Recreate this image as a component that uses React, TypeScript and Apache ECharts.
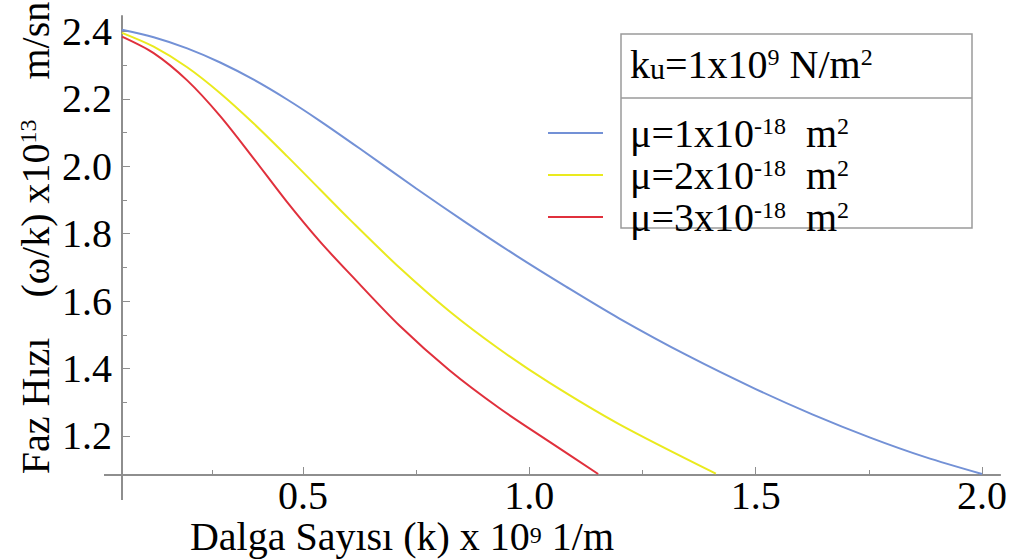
import React, { useEffect, useRef } from "react";
import * as echarts from "echarts";

const FONT = "Liberation Serif";

const blueX = [0.1, 0.17, 0.244, 0.317, 0.391, 0.464, 0.537, 0.626, 0.75, 0.86, 0.971, 1.081, 1.198, 1.35, 1.5, 1.625, 1.753, 1.875, 2.0];
const blueY = [2.405, 2.383, 2.35, 2.308, 2.257, 2.199, 2.135, 2.052, 1.934, 1.833, 1.735, 1.643, 1.549, 1.438, 1.339, 1.264, 1.195, 1.137, 1.087];

const yellowX = [0.1, 0.17, 0.244, 0.317, 0.391, 0.464, 0.537, 0.604, 0.714, 0.824, 0.934, 1.044, 1.198, 1.412];
const yellowY = [2.396, 2.355, 2.294, 2.217, 2.127, 2.031, 1.932, 1.841, 1.698, 1.569, 1.457, 1.358, 1.235, 1.088];

const redX = [0.1, 0.17, 0.244, 0.317, 0.391, 0.464, 0.537, 0.604, 0.714, 0.824, 0.934, 1.044, 1.152];
const redY = [2.385, 2.336, 2.255, 2.149, 2.023, 1.895, 1.777, 1.68, 1.526, 1.394, 1.282, 1.183, 1.087];

const seriesNames = ["μ=1x10⁻¹⁸  m²", "μ=2x10⁻¹⁸  m²", "μ=3x10⁻¹⁸  m²"];
const seriesCoef = ["1", "2", "3"];
const seriesColors = ["#7391d6", "#eaea1e", "#e0303c"];

const xLabelValues = [0.5, 1.0, 1.5, 2.0];
const xMinorTicks = [0.3, 0.75, 1.25, 1.75];
const yLabelValues = [1.2, 1.4, 1.6, 1.8, 2.0, 2.2, 2.4];
const yMinorTicks = [1.3, 1.5, 1.7, 1.9, 2.1, 2.3];

const zip = (xs: number[], ys: number[]) => xs.map((x, i) => [x, ys[i]]);

export default function App() {
  const ref = useRef<HTMLDivElement>(null);
  useEffect(() => {
    if (!ref.current) return;
    const chart = echarts.init(ref.current, null, { renderer: "svg" });
    const axisGray = "#8e8e8e";
    const rich = {
      b: { fontFamily: FONT, fontSize: 40, lineHeight: 38, color: "#000" },
      bn: { fontFamily: FONT, fontSize: 40, lineHeight: 26, color: "#000" },
      bp: { fontFamily: FONT, fontSize: 40, lineHeight: 38, color: "#000", padding: [0, 0, 0, 22] },
      sup: { fontFamily: FONT, fontSize: 24, lineHeight: 18, verticalAlign: "top", color: "#000" },
      supn: { fontFamily: FONT, fontSize: 24, lineHeight: 6, verticalAlign: "top", color: "#000" },
      sub: { fontFamily: FONT, fontSize: 30, lineHeight: 28, verticalAlign: "bottom", color: "#000" },
    };
    const xBase = { type: "value", min: 0.1, max: 2.04, splitLine: { show: false } };
    const yBase = { type: "value", min: 1.084, max: 2.446, splitLine: { show: false } };
    const option: any = {
      animation: false,
      backgroundColor: "#fff",
      textStyle: { fontFamily: FONT },
      grid: { left: 122, right: 7, top: 16, bottom: 85, containLabel: false },
      xAxis: [
        {
          ...xBase,
          axisLine: { show: true, lineStyle: { color: axisGray, width: 2 } },
          axisTick: { show: true, inside: true, length: 8, lineStyle: { color: axisGray, width: 1 }, customValues: xLabelValues },
          axisLabel: {
            show: true,
            margin: 5,
            customValues: xLabelValues,
            formatter: (v: number) => v.toFixed(1),
            fontFamily: FONT,
            fontSize: 40,
            lineHeight: 30,
            color: "#000",
          },
        },
        {
          ...xBase,
          position: "bottom",
          axisLine: { show: false },
          axisTick: { show: true, inside: true, length: 5, lineStyle: { color: axisGray, width: 1 }, customValues: xMinorTicks },
          axisLabel: { show: false },
        },
      ],
      yAxis: [
        {
          ...yBase,
          axisLine: { show: true, lineStyle: { color: axisGray, width: 2 } },
          axisTick: { show: true, inside: true, length: 8, lineStyle: { color: axisGray, width: 1 }, customValues: yLabelValues },
          axisLabel: {
            show: true,
            margin: 10,
            customValues: yLabelValues,
            formatter: (v: number) => v.toFixed(1),
            fontFamily: FONT,
            fontSize: 40,
            lineHeight: 34,
            color: "#000",
          },
        },
        {
          ...yBase,
          position: "left",
          axisLine: { show: false },
          axisTick: { show: true, inside: true, length: 5, lineStyle: { color: axisGray, width: 1 }, customValues: yMinorTicks },
          axisLabel: { show: false },
        },
      ],
      legend: {
        show: true,
        orient: "vertical",
        left: 548,
        top: 113,
        padding: 0,
        itemGap: 2,
        itemWidth: 55,
        itemHeight: 2,
        icon: "rect",
        data: seriesNames,
        formatter: (name: string) => {
          const i = seriesNames.indexOf(name);
          return `{bp|μ=${seriesCoef[i]}x10}{sup|-18}{b|  m}{sup|2}`;
        },
        textStyle: { rich, fontFamily: FONT, fontSize: 40, color: "#000" },
      },
      graphic: [
        { type: "line", shape: { x1: 104, y1: 475, x2: 123, y2: 475 }, style: { stroke: axisGray, lineWidth: 2 } },
        { type: "line", shape: { x1: 122, y1: 475, x2: 122, y2: 500 }, style: { stroke: axisGray, lineWidth: 2 } },
        { type: "rect", shape: { x: 621, y: 34, width: 351, height: 194 }, style: { fill: "#fff", stroke: "#9a9a9a", lineWidth: 1.5 }, z: -1 },
        { type: "line", shape: { x1: 621, y1: 98, x2: 972, y2: 98 }, style: { stroke: "#9a9a9a", lineWidth: 1.5 } },
        {
          type: "text",
          x: 630,
          y: 64,
          style: {
            text: "{b|k}{sub|u}{b|=1x10}{sup|9}{b| N/m}{sup|2}",
            rich,
            verticalAlign: "middle",
            align: "left",
          },
        },
        {
          type: "text",
          x: 35,
          y: 238,
          rotation: Math.PI / 2,
          style: {
            text: "{b|Faz Hızı    (ω/k) x10}{sup|13}{b|    m/sn}",
            rich,
            align: "center",
            verticalAlign: "middle",
          },
        },
        {
          type: "text",
          x: 402,
          y: 536,
          style: {
            text: "{bn|Dalga Sayısı (k) x 10}{supn|9}{bn| 1/m}",
            rich,
            align: "center",
            verticalAlign: "middle",
          },
        },
      ],
      series: [
        { name: seriesNames[0], type: "line", data: zip(blueX, blueY), smooth: 0.3, symbol: "none", lineStyle: { color: seriesColors[0], width: 2 }, itemStyle: { color: seriesColors[0] } },
        { name: seriesNames[1], type: "line", data: zip(yellowX, yellowY), smooth: 0.3, symbol: "none", lineStyle: { color: seriesColors[1], width: 2 }, itemStyle: { color: seriesColors[1] } },
        { name: seriesNames[2], type: "line", data: zip(redX, redY), smooth: 0.3, symbol: "none", lineStyle: { color: seriesColors[2], width: 2 }, itemStyle: { color: seriesColors[2] } },
      ],
    };
    chart.setOption(option);
    return () => chart.dispose();
  }, []);
  return <div ref={ref} style={{ position: "fixed", left: 0, top: 0, width: 1010, height: 560, background: "#fff" }} />;
}
